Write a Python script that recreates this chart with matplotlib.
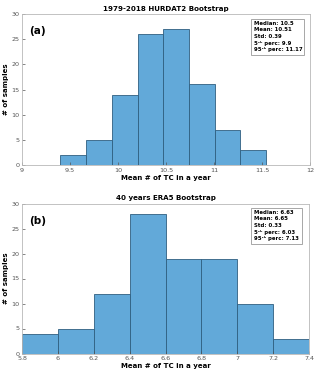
import matplotlib
matplotlib.use("Agg")
import matplotlib.pyplot as plt
import numpy as np

# Panel (a): HURDAT2 bootstrap
a_edges = [9.40, 9.668, 9.936, 10.204, 10.472, 10.740, 11.008, 11.276, 11.544]
a_counts = [2, 5, 14, 26, 27, 16, 7, 3]
a_title = "1979-2018 HURDAT2 Bootstrap"
a_xticks = [9, 9.5, 10, 10.5, 11, 11.5, 12]
a_xticklabels = ["9", "9.5", "10", "10.5", "11", "11.5", "12"]
a_stats = ["Median: 10.5", "Mean: 10.51", "Std: 0.39",
           "5ᵗʰ perc: 9.9", "95ᵗʰ perc: 11.17"]

# Panel (b): ERA5 bootstrap
b_edges = [5.8, 6.0, 6.2, 6.4, 6.6, 6.8, 7.0, 7.2, 7.4]
b_counts = [4, 5, 12, 28, 19, 19, 10, 3]
b_title = "40 years ERA5 Bootstrap"
b_xticks = [5.8, 6.0, 6.2, 6.4, 6.6, 6.8, 7.0, 7.2, 7.4]
b_xticklabels = ["5.8", "6", "6.2", "6.4", "6.6", "6.8", "7", "7.2", "7.4"]
b_stats = ["Median: 6.63", "Mean: 6.65", "Std: 0.33",
           "5ᵗʰ perc: 6.03", "95ᵗʰ perc: 7.13"]

yticks = [0, 5, 10, 15, 20, 25, 30]

W, H = 320, 378
fig = plt.figure(figsize=(W / 100, H / 100), dpi=100)

face = "#62a9d9"
edge = "#2f5f80"
spine_c = "#b8b8b8"
tick_c = "#555555"

def panel(rect, edges, counts, title, xticks, xtl, xlim, stats, box, letter):
    ax = fig.add_axes([rect[0] / W, 1 - rect[3] / H, (rect[2] - rect[0]) / W, (rect[3] - rect[1]) / H])
    e = np.array(edges)
    ax.bar(e[:-1], counts, width=np.diff(e), align="edge", color=face,
           edgecolor=edge, linewidth=0.6)
    ax.set_xlim(*xlim)
    ax.set_ylim(0, 30)
    ax.set_xticks(xticks)
    ax.set_xticklabels(xtl)
    ax.set_yticks(yticks)
    ax.tick_params(direction="in", length=2, width=0.5, labelsize=4.6, colors=tick_c, pad=2)
    for s in ax.spines.values():
        s.set_color(spine_c)
        s.set_linewidth(0.6)
    ax.set_title(title, fontsize=5.1, fontweight="bold", pad=2.5)
    ax.set_xlabel("Mean # of TC in a year", fontsize=5.0, fontweight="bold", labelpad=1.5)
    ax.set_ylabel("# of samples", fontsize=5.0, fontweight="bold", labelpad=1.5)
    ax.text(0.025, 0.92, letter, transform=ax.transAxes, fontsize=7.5,
            fontweight="bold", va="top", ha="left")
    # stats box
    bx0, by0, bx1, by1 = box
    x0 = (bx0 - rect[0]) / (rect[2] - rect[0])
    y1 = (rect[3] - by0) / (rect[3] - rect[1])
    y0 = (rect[3] - by1) / (rect[3] - rect[1])
    x1 = (bx1 - rect[0]) / (rect[2] - rect[0])
    ax.add_patch(plt.Rectangle((x0, y0), x1 - x0, y1 - y0, transform=ax.transAxes,
                               facecolor="white", edgecolor="#999999", linewidth=0.6, zorder=5))
    ax.text(x0 + 0.012, y1 - 0.012, "\n".join(stats), transform=ax.transAxes,
            fontsize=3.9, fontweight="bold", va="top", ha="left", linespacing=1.4,
            family=["DejaVu Sans"], zorder=6)
    return ax

panel((22, 14, 310, 165), a_edges, a_counts, a_title, a_xticks, a_xticklabels,
      (9, 12), a_stats, (251, 19, 304, 55), "(a)")
panel((22, 203.5, 309, 353.5), b_edges, b_counts, b_title, b_xticks, b_xticklabels,
      (5.8, 7.4), b_stats, (251, 208, 302, 244), "(b)")

fig.savefig("out.png", dpi=100)
